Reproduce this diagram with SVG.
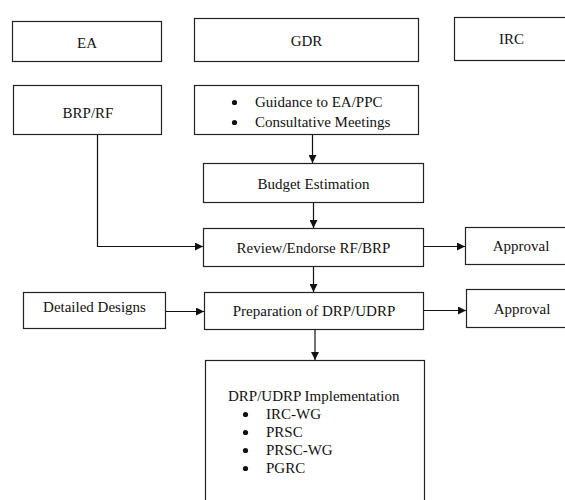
<svg xmlns="http://www.w3.org/2000/svg" width="565" height="500" viewBox="0 0 565 500">
  <style>
    .box { fill: #ffffff; stroke: #222222; stroke-width: 1.2; }
    .lbl { font-family: "Liberation Serif", "Times New Roman", serif; font-size: 15px; fill: #111111; }
    .mid { text-anchor: middle; }
    .dot { fill: #111111; }
    .link { fill: none; stroke: #111111; stroke-width: 1.2; }
  </style>
  <defs>
    <marker id="arrow" viewBox="0 0 10 10" refX="10" refY="5" markerWidth="8" markerHeight="8" markerUnits="userSpaceOnUse" orient="auto">
      <path d="M0,0 L10,5 L0,10 Z" fill="#111111"/>
    </marker>
  </defs>
  <rect width="565" height="500" fill="#ffffff"/>

  <!-- header row -->
  <g id="ea">
    <rect class="box" x="12.5" y="21.5" width="149" height="40"/>
    <text class="lbl mid" x="87" y="48">EA</text>
  </g>
  <g id="gdr">
    <rect class="box" x="194.5" y="18.5" width="224" height="43"/>
    <text class="lbl mid" x="306.5" y="46">GDR</text>
  </g>
  <g id="irc">
    <rect class="box" x="454.5" y="17.5" width="116" height="43"/>
    <text class="lbl mid" x="511.5" y="44">IRC</text>
  </g>

  <!-- second row -->
  <g id="brp-rf">
    <rect class="box" x="13.5" y="85.5" width="148" height="49"/>
    <text class="lbl mid" x="88" y="118">BRP/RF</text>
  </g>
  <g id="guidance">
    <rect class="box" x="194.5" y="85.5" width="224" height="49"/>
    <circle class="dot" cx="234.5" cy="102.5" r="2.6"/>
    <text class="lbl" x="255" y="107">Guidance to EA/PPC</text>
    <circle class="dot" cx="234.5" cy="122.5" r="2.6"/>
    <text class="lbl" x="255" y="127">Consultative Meetings</text>
  </g>

  <g id="budget">
    <rect class="box" x="203.5" y="163.5" width="220" height="39"/>
    <text class="lbl mid" x="313.5" y="189">Budget Estimation</text>
  </g>
  <g id="review">
    <rect class="box" x="203.5" y="228.5" width="220" height="38"/>
    <text class="lbl mid" x="313.5" y="253">Review/Endorse RF/BRP</text>
  </g>
  <g id="approval-1">
    <rect class="box" x="465.5" y="227.5" width="112" height="37"/>
    <text class="lbl mid" x="521" y="251">Approval</text>
  </g>
  <g id="detailed-designs">
    <rect class="box" x="23.5" y="292.5" width="142" height="36"/>
    <text class="lbl mid" x="94.5" y="312">Detailed Designs</text>
  </g>
  <g id="preparation">
    <rect class="box" x="204.5" y="292.5" width="219" height="37"/>
    <text class="lbl mid" x="314" y="316">Preparation of DRP/UDRP</text>
  </g>
  <g id="approval-2">
    <rect class="box" x="466.5" y="289.5" width="112" height="38"/>
    <text class="lbl mid" x="522" y="314">Approval</text>
  </g>
  <g id="implementation">
    <rect class="box" x="205.5" y="360.5" width="219" height="150"/>
    <text class="lbl" x="228" y="401">DRP/UDRP Implementation</text>
    <circle class="dot" cx="245.5" cy="414.5" r="2.6"/>
    <text class="lbl" x="266" y="419">IRC-WG</text>
    <circle class="dot" cx="245.5" cy="432.5" r="2.6"/>
    <text class="lbl" x="266" y="437">PRSC</text>
    <circle class="dot" cx="245.5" cy="450.5" r="2.6"/>
    <text class="lbl" x="266" y="455">PRSC-WG</text>
    <circle class="dot" cx="245.5" cy="468.5" r="2.6"/>
    <text class="lbl" x="266" y="473">PGRC</text>
  </g>

  <!-- connectors -->
  <g id="connectors">
    <path class="link" d="M312.5,135 V163" marker-end="url(#arrow)"/>
    <path class="link" d="M313.5,203 V228" marker-end="url(#arrow)"/>
    <path class="link" d="M97.5,135 V246.5 H203" marker-end="url(#arrow)"/>
    <path class="link" d="M424,246.5 H465" marker-end="url(#arrow)"/>
    <path class="link" d="M313.5,267 V292" marker-end="url(#arrow)"/>
    <path class="link" d="M166,311.5 H204" marker-end="url(#arrow)"/>
    <path class="link" d="M424,310.5 H466" marker-end="url(#arrow)"/>
    <path class="link" d="M315,330 V360" marker-end="url(#arrow)"/>
  </g>
</svg>
